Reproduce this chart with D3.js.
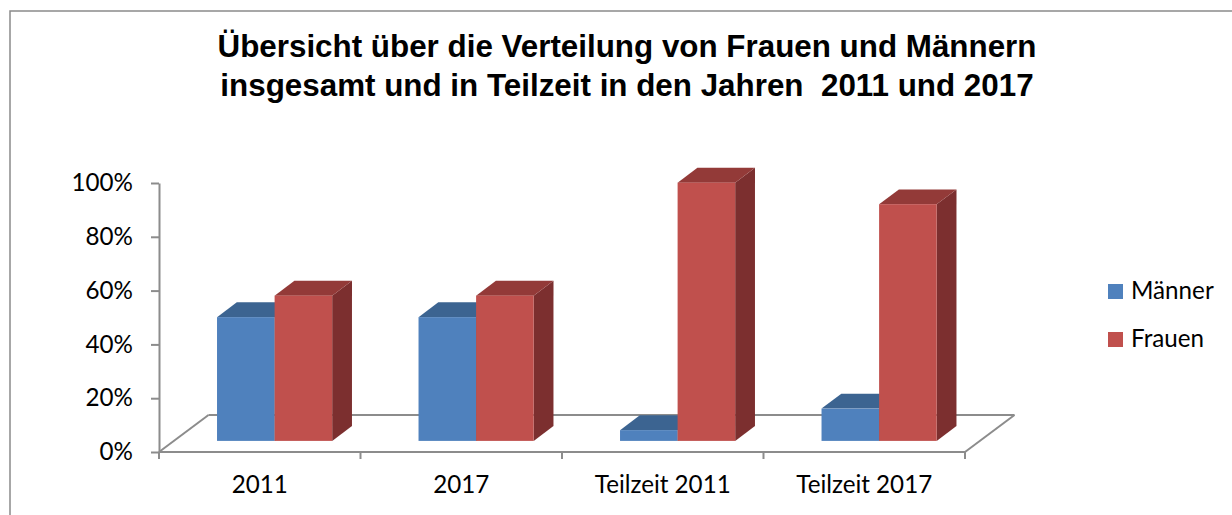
<!DOCTYPE html>
<html>
<head>
<meta charset="utf-8">
<script src="https://cdn.jsdelivr.net/npm/d3@7"></script>
<style>
  html, body { margin: 0; padding: 0; background: #fff; }
  svg { display: block; }
</style>
</head>
<body>
<svg id="chart" width="1232" height="515"></svg>
<script>
// ---- data ----
const categories = ["2011", "2017", "Teilzeit 2011", "Teilzeit 2017"];
const series = ["Männer", "Frauen"];
const maenner = [0.46, 0.46, 0.04, 0.12];
const frauen  = [0.54, 0.54, 0.96, 0.88];
const yTicks = [0, 0.2, 0.4, 0.6, 0.8, 1.0];
const titleLines = ["Übersicht über die Verteilung von Frauen und Männern",
                    "insgesamt und in Teilzeit in den Jahren  2011 und 2017"];

const values = { "Männer": maenner, "Frauen": frauen };
const colors = {
  "Männer": { front: "#4F81BD", top: "#3C6491", side: "#2F4F76" },
  "Frauen": { front: "#C0504D", top: "#933A38", side: "#7C2F2F" }
};

const svg = d3.select("#chart");
const W = 1232, H = 515;

// frame
svg.append("rect").attr("x", 10).attr("y", 11).attr("width", W).attr("height", H)
  .attr("fill", "#fff").attr("stroke", "#8a8a8a").attr("stroke-width", 1.5);

// layout
const left = 159, right = 965, base = 452, topY = 183;
const floorDX = 49.5, floorDY = -37;      // depth vector of floor
const frontFrac = 0.3, depthFrac = 0.4;   // bar position in depth

const x = d3.scaleBand().domain(categories).range([left, right]).paddingInner(0).paddingOuter(0);
const xs = d3.scaleBand().domain(series).range([0, x.bandwidth()]).paddingInner(0).paddingOuter(0.75);
const y = d3.scaleLinear().domain([0, 1]).range([base, topY]);

const axisColor = "#8c8c8c";
const fontFam = "Lato, 'Open Sans', sans-serif";

// floor
const g = svg.append("g");
const floorPts = [[left, base], [right, base], [right + floorDX, base + floorDY], [left + floorDX, base + floorDY]];
[[3, 2], [0, 3], [1, 2]].forEach(([a, b]) => {
  g.append("path")
    .attr("d", d3.line()([floorPts[a], floorPts[b]]))
    .attr("stroke", axisColor).attr("stroke-width", 2).attr("fill", "none");
});

// bars
const fx = floorDX * frontFrac, fy = floorDY * frontFrac;
const ddx = floorDX * depthFrac, ddy = floorDY * depthFrac;
const bars = [];
categories.forEach((c, i) => {
  series.forEach(s => {
    bars.push({ cat: c, s: s, v: values[s][i] });
  });
});
const bw = xs.bandwidth();
const barG = svg.append("g");
bars.forEach(d => {
  const x0 = x(d.cat) + xs(d.s) + fx, x1 = x0 + bw;
  const yb = y(0) + fy, yt = y(d.v) + fy;
  const col = colors[d.s];
  const gg = barG.append("g");
  gg.append("path").attr("fill", col.side)
    .attr("d", d3.line()([[x1, yt], [x1 + ddx, yt + ddy], [x1 + ddx, yb + ddy], [x1, yb]]) + "Z");
  gg.append("path").attr("fill", col.top)
    .attr("d", d3.line()([[x0, yt], [x0 + ddx, yt + ddy], [x1 + ddx, yt + ddy], [x1, yt]]) + "Z");
  gg.append("rect").attr("fill", col.front)
    .attr("x", x0).attr("y", yt).attr("width", bw).attr("height", yb - yt);
});

// front floor edge + category ticks
svg.append("path").attr("d", d3.line()([floorPts[0], floorPts[1]]))
  .attr("stroke", axisColor).attr("stroke-width", 2).attr("fill", "none");
const bounds = categories.map(c => x(c)).concat([right]);
svg.append("g").selectAll("line").data(bounds).join("line")
  .attr("x1", d => d).attr("x2", d => d).attr("y1", base).attr("y2", base + 7)
  .attr("stroke", axisColor).attr("stroke-width", 2);

// y axis
const yAxis = d3.axisLeft(y).tickValues(yTicks).tickFormat(d3.format(".0%"))
  .tickSize(8).tickSizeOuter(0).tickPadding(18);
const ya = svg.append("g").attr("transform", `translate(${left},0)`).call(yAxis);
ya.select(".domain").attr("stroke", axisColor).attr("stroke-width", 2);
ya.selectAll(".tick line").attr("stroke", axisColor).attr("stroke-width", 2);
ya.selectAll(".tick text").attr("class", "axtext").attr("font-family", fontFam).attr("fill", "#000");

// category labels
const catText = svg.append("g").selectAll("text").data(categories).join("text")
  .attr("class", "axtext")
  .attr("x", c => x(c) + x.bandwidth() / 2).attr("y", 493)
  .attr("text-anchor", "middle").attr("font-family", fontFam).attr("fill", "#000")
  .text(c => c);

// legend
const legend = svg.append("g");
series.forEach((s, i) => {
  const ly = 284 + i * 48;
  legend.append("rect").attr("x", 1108).attr("y", ly).attr("width", 15).attr("height", 15)
    .attr("fill", colors[s].front);
  legend.append("text").attr("class", "axtext").attr("x", 1131).attr("y", ly + 14.5)
    .attr("font-family", fontFam).attr("fill", "#000").text(s);
});

// title
const title = svg.append("g").selectAll("text").data(titleLines).join("text")
  .attr("x", 627).attr("y", (d, i) => 57 + i * 39)
  .attr("text-anchor", "middle").style("white-space", "pre")
  .attr("font-family", "'Liberation Sans', Arial, sans-serif").attr("font-weight", "bold")
  .attr("fill", "#000").text(d => d);

// fit font sizes to the reference text widths
function fit(sel, probeNode, target, start) {
  sel.attr("font-size", start);
  const w = probeNode.getComputedTextLength();
  sel.attr("font-size", start * target / w);
}
fit(svg.selectAll(".axtext"), catText.nodes()[2], 136, 24);
fit(title, title.nodes()[0], 819, 24);
</script>
</body>
</html>
